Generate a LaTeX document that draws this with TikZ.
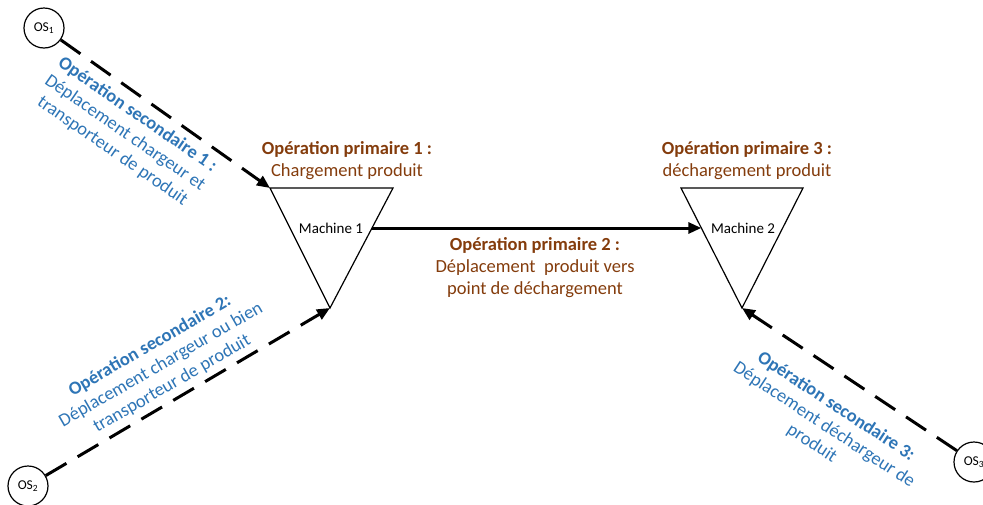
\documentclass[tikz,border=0pt]{standalone}
\usepackage{fontspec}
\setmainfont{Carlito}
\usetikzlibrary{arrows.meta,calc}
\definecolor{brownop}{HTML}{843C0C}
\definecolor{blueop}{HTML}{2E75B6}
\tikzset{
  osnode/.style={circle,draw,line width=1.2pt,minimum size=40pt,inner sep=0pt,font=\fontsize{13.5}{15}\selectfont},
  tri/.style={draw,line width=1.2pt},
  machtext/.style={font=\fontsize{15}{17}\selectfont},
  primlabel/.style={text=brownop,align=center,font=\fontsize{18.5}{22}\selectfont},
  seclabel/.style={text=blueop,align=center,font=\fontsize{18.5}{22}\selectfont},
  dashconn/.style={line width=3pt,dash pattern=on 24pt off 13pt,-{Triangle[length=13pt,width=11pt]}},
  mainconn/.style={line width=3pt,-{Triangle[length=13pt,width=11pt]}}
}
\begin{document}
\begin{tikzpicture}[x=1pt,y=-1pt]
\useasboundingbox (0,0) rectangle (983,504);
% triangles
\coordinate (m1l) at (270,188);
\coordinate (m1r) at (393,188);
\coordinate (m1b) at (330,308);
\coordinate (m2l) at (681,188);
\coordinate (m2r) at (803,188);
\coordinate (m2b) at (742,308);
\draw[tri] (m1l) -- (m1r) -- (m1b) -- cycle;
\draw[tri] (m2l) -- (m2r) -- (m2b) -- cycle;
\node[machtext] (mach1) at (331,228) {Machine 1};
\node[machtext] (mach2) at (743,228) {Machine 2};
\coordinate (a1) at ($(m1r)!1/3!(m1b)$);
\coordinate (a2) at ($(m2l)!1/3!(m2b)$);
\draw[mainconn] (a1) -- (a2);
% OS circles
\node[osnode] (os1) at (44,28) {OS\textsubscript{1}};
\node[osnode] (os2) at (28,486) {OS\textsubscript{2}};
\node[osnode] (os3) at (974,462) {OS\textsubscript{3}};
\draw[dashconn] (os1) -- (m1l);
\draw[dashconn] (os2) -- (m1b);
\draw[dashconn] (os3) -- (m2b);
% primary labels
\node[primlabel] (p1) at (347,160.5) {\textbf{Opération primaire 1 :}\\Chargement produit};
\node[primlabel] (p2) at (535,268) {\textbf{Opération primaire 2 :}\\Déplacement\ \ produit vers\\point de déchargement};
\node[primlabel] (p3) at (747,160.5) {\textbf{Opération primaire 3 :}\\déchargement produit};
% secondary labels
\node[seclabel,rotate=-34.6] (s1) at (125,133) {\textbf{Opération secondaire 1 :}\\Déplacement chargeur et\\transporteur de produit};
\node[seclabel,rotate=30] (s2) at (161,365) {\textbf{Opération secondaire 2:}\\Déplacement chargeur ou bien\\transporteur de produit};
\node[seclabel,rotate=-33.3] (s3) at (824,425) {\textbf{Opération secondaire 3:}\\Déplacement déchargeur de\\produit};
\end{tikzpicture}
\end{document}
